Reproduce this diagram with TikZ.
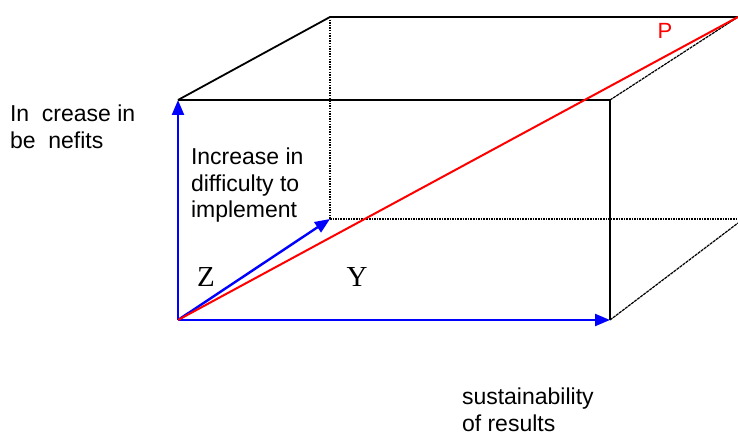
\documentclass[tikz,border=0pt]{standalone}
\usepackage{fontspec}
\setmainfont{Liberation Sans}
\newfontfamily\serifZ{Liberation Serif}
\usetikzlibrary{arrows.meta}
\tikzset{
  edge/.style={black, line width=1.8pt},
  hidden/.style={black, line width=1.5pt, dash pattern=on 1.5pt off 1.1pt},
  thinedge/.style={black, line width=1.2pt, dash pattern=on 3pt off 0.8pt},
  axis/.style={blue, line width=2.4pt, -{Triangle[length=15pt,width=12pt]}},
  resultant/.style={red, line width=2pt},
  label/.style={inner sep=0pt, outer sep=0pt, align=left, font=\fontsize{23}{26.5}\selectfont},
  letter/.style={inner sep=0pt, font=\serifZ\fontsize{29}{32}\selectfont},
}
\begin{document}
\begin{tikzpicture}[x=1pt,y=-1pt]
\useasboundingbox (0,0) rectangle (738,435);
% corners
\coordinate (O) at (178,320);
\coordinate (A) at (178,100);
\coordinate (B) at (610,100);
\coordinate (C) at (610,320);
\coordinate (D) at (330,17);
\coordinate (E) at (738,17);
\coordinate (F) at (330,219);
\coordinate (G) at (738,219);
\coordinate (H) at (738,223);
% hidden edges
\draw[hidden] (D) -- (F);
\draw[hidden] (F) -- (G);
% visible edges
\draw[edge] (A) -- (D) -- (E);
\draw[edge] (A) -- (B) -- (C);
\draw[thinedge] (B) -- (E);
\draw[thinedge] (C) -- (H);
% axes
\draw[axis] (O) -- (A);
\draw[axis] (O) -- (C);
\draw[axis] (O) -- (F);
% resultant
\draw[resultant] (O) -- (E);
% labels
\node[label, anchor=north west] (ben) at (10,105) {In\ \ crease in\\be\ \ nefits};
\node[label, anchor=north west] (diff) at (191,148) {Increase in\\difficulty to\\implement};
\node[label, anchor=north west] (sus) at (462,388) {sustainability\\of results};
\node[letter] (Z) at (206,277) {Z};
\node[letter] (Y) at (357,277) {Y};
\node[inner sep=0pt, red, font=\fontsize{22}{26}\selectfont] (P) at (665,31) {P};
\end{tikzpicture}
\end{document}
